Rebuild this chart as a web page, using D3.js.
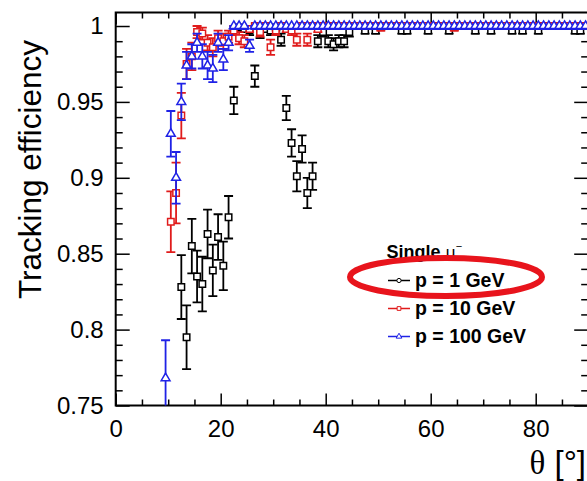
<!DOCTYPE html>
<html>
<head>
<meta charset="utf-8">
<script src="https://cdn.jsdelivr.net/npm/d3@7"></script>
<style>
  html, body { margin: 0; padding: 0; background: #fff; }
  svg { display: block; }
  text { font-family: "Liberation Sans", Arial, Helvetica, sans-serif; fill: #000; }
</style>
</head>
<body>
<svg id="chart" width="587" height="481"></svg>
<script>
// Bin centres in theta (degrees), 1 degree wide bins
const thetaBins = [
  9.5, 10.5, 11.5, 12.5, 13.5, 14.5, 15.5, 16.5, 17.5, 18.5, 19.5,
  20.5, 21.5, 22.5, 23.5, 24.5, 25.5, 26.5, 27.5, 28.5, 29.5,
  30.5, 31.5, 32.5, 33.5, 34.5, 35.5, 36.5, 37.5, 38.5, 39.5,
  40.5, 41.5, 42.5, 43.5, 44.5, 45.5, 46.5, 47.5, 48.5, 49.5,
  50.5, 51.5, 52.5, 53.5, 54.5, 55.5, 56.5, 57.5, 58.5, 59.5,
  60.5, 61.5, 62.5, 63.5, 64.5, 65.5, 66.5, 67.5, 68.5, 69.5,
  70.5, 71.5, 72.5, 73.5, 74.5, 75.5, 76.5, 77.5, 78.5, 79.5,
  80.5, 81.5, 82.5, 83.5, 84.5, 85.5, 86.5, 87.5, 88.5, 89.5
];

// p = 1 GeV
const effP1 = [
  null, null, null, 0.828, 0.795, 0.855, 0.835, 0.830, 0.863, 0.839, 0.861,
  0.842, 0.874, 0.951, 0.999, 0.998, 0.997, 0.967, 0.995, 0.998, 0.997,
  0.999, 0.991, 0.946, 0.923, 0.901, 0.919, 0.890, 0.901, 0.990, 0.996,
  0.990, 0.988, 0.990, 0.990, 0.996, 1, 1, 0.997, 1, 0.997,
  1, 1, 1, 1, 0.997, 0.997, 1, 1, 1, 0.997,
  1, 1, 1, 0.997, 1, 1, 1, 1, 0.997, 1,
  1, 0.997, 1, 1, 1, 0.997, 1, 0.997, 1, 1,
  0.997, 1, 1, 1, 1, 1, 1, 0.997, 0.997, 1
];
const errP1 = [
  null, null, null, 0.021, 0.021, 0.018, 0.017, 0.018, 0.016, 0.017, 0.015,
  0.016, 0.014, 0.009, 0.002, 0.002, 0.003, 0.007, 0.003, 0.002, 0.003,
  0.002, 0.004, 0.008, 0.009, 0.010, 0.009, 0.010, 0.009, 0.004, 0.003,
  0.004, 0.004, 0.004, 0.004, 0.003, 0.002, 0.002, 0.002, 0.002, 0.002,
  0.002, 0.002, 0.002, 0.002, 0.002, 0.002, 0.002, 0.002, 0.002, 0.002,
  0.002, 0.002, 0.002, 0.002, 0.002, 0.002, 0.002, 0.002, 0.002, 0.002,
  0.002, 0.002, 0.002, 0.002, 0.002, 0.002, 0.002, 0.002, 0.002, 0.002,
  0.002, 0.002, 0.002, 0.002, 0.002, 0.002, 0.002, 0.002, 0.002, 0.002
];

// p = 10 GeV
const effP10 = [
  null, 0.871, 0.890, 0.941, 0.975, 0.980, 0.996, 0.995, 0.989, 0.986, 0.992,
  0.990, 0.993, 0.997, 0.992, 0.990, 0.998, 1, 0.996, 1, 0.986,
  0.997, 1, 0.998, 0.997, 0.991, 1, 0.991, 1, 0.998, 1,
  1, 1, 1, 1, 1, 1, 1, 1, 1, 1,
  0.999, 1, 1, 1, 1, 1, 1, 1, 1, 1,
  1, 1, 1, 1, 0.999, 1, 1, 1, 1, 1,
  1, 1, 1, 1, 1, 1, 1, 1, 1, 1,
  1, 1, 1, 1, 1, 1, 1, 1, 1, 1
];
const errP10 = [
  null, 0.020, 0.020, 0.015, 0.010, 0.009, 0.004, 0.004, 0.005, 0.006, 0.005,
  0.005, 0.004, 0.003, 0.004, 0.004, 0.002, 0.002, 0.003, 0.002, 0.005,
  0.003, 0.002, 0.002, 0.003, 0.004, 0.002, 0.004, 0.002, 0.002, 0.002,
  0.002, 0.002, 0.002, 0.002, 0.002, 0.002, 0.002, 0.002, 0.002, 0.002,
  0.002, 0.002, 0.002, 0.002, 0.002, 0.002, 0.002, 0.002, 0.002, 0.002,
  0.002, 0.002, 0.002, 0.002, 0.002, 0.002, 0.002, 0.002, 0.002, 0.002,
  0.002, 0.002, 0.002, 0.002, 0.002, 0.002, 0.002, 0.002, 0.002, 0.002,
  0.002, 0.002, 0.002, 0.002, 0.002, 0.002, 0.002, 0.002, 0.002, 0.002
];

// p = 100 GeV
const effP100 = [
  0.768, 0.929, 0.900, 0.950, 0.974, 0.980, 0.989, 0.980, 0.974, 0.972, 0.989,
  0.978, 0.989, 1, 1, 1, 0.987, 1, 1, 1, 1,
  1, 1, 1, 1, 1, 1, 1, 1, 1, 1,
  1, 1, 1, 1, 1, 1, 1, 1, 1, 1,
  1, 1, 1, 1, 1, 1, 1, 1, 1, 1,
  1, 1, 1, 1, 1, 1, 1, 1, 1, 1,
  1, 1, 1, 1, 1, 1, 1, 1, 1, 1,
  1, 1, 1, 1, 1, 1, 1, 1, 1, 1
];
const errP100 = [
  0.025, 0.015, 0.017, 0.012, 0.009, 0.008, 0.006, 0.008, 0.009, 0.009, 0.006,
  0.007, 0.005, 0.002, 0.002, 0.002, 0.004, 0.002, 0.002, 0.002, 0.002,
  0.002, 0.002, 0.002, 0.002, 0.002, 0.002, 0.002, 0.002, 0.002, 0.002,
  0.002, 0.002, 0.002, 0.002, 0.002, 0.002, 0.002, 0.002, 0.002, 0.002,
  0.002, 0.002, 0.002, 0.002, 0.002, 0.002, 0.002, 0.002, 0.002, 0.002,
  0.002, 0.002, 0.002, 0.002, 0.002, 0.002, 0.002, 0.002, 0.002, 0.002,
  0.002, 0.002, 0.002, 0.002, 0.002, 0.002, 0.002, 0.002, 0.002, 0.002,
  0.002, 0.002, 0.002, 0.002, 0.002, 0.002, 0.002, 0.002, 0.002, 0.002
];

const seriesNames = ["p = 1 GeV", "p = 10 GeV", "p = 100 GeV"];
const seriesColors = ["#000000", "#e01b1b", "#1f22e6"];
const seriesMarkers = ["square", "square", "triangle"];
const legendMarkers = ["circle", "square", "triangle"];

const xMajorTicks = [0, 20, 40, 60, 80];
const yMajorTicks = [0.75, 0.8, 0.85, 0.9, 0.95, 1];
const xTitle = "\u03b8";
const xUnit = " [\u00b0]";
const yTitle = "Tracking efficiency";

// ---- frame and scales ----
const frame = { left: 115.7, right: 588.2, top: 12.5, bottom: 405.5 };
const x = d3.scaleLinear().domain([0, 90]).range([frame.left, frame.right]);
const y = d3.scaleLinear().domain([0.75, 1.0089]).range([frame.bottom, frame.top]);

const svg = d3.select("#chart");

svg.append("defs").append("clipPath").attr("id", "plotClip")
  .append("rect")
  .attr("x", frame.left).attr("y", frame.top)
  .attr("width", frame.right - frame.left).attr("height", frame.bottom - frame.top);

const xMinor = d3.range(0, 91, 5).filter(v => v % 20 !== 0);
const yMinor = d3.range(75, 101, 1).map(v => v / 100).filter(v => Math.round(v * 100) % 5 !== 0);

const fmtY = d => String(+d.toFixed(2));

function styleAxis(g) {
  g.select(".domain").remove();
  g.selectAll(".tick line").attr("stroke", "#000").attr("stroke-width", 1.5);
  g.selectAll(".tick text")
    .attr("font-family", "'Liberation Sans', Arial, sans-serif")
    .attr("font-size", 24).attr("fill", "#000");
}

// bottom axis (ticks pointing inward)
svg.append("g").attr("transform", `translate(0,${frame.bottom})`)
  .call(d3.axisBottom(x).tickValues(xMajorTicks).tickSize(-12).tickPadding(14).tickFormat(d3.format("d")))
  .call(styleAxis);
svg.append("g").attr("transform", `translate(0,${frame.bottom})`)
  .call(d3.axisBottom(x).tickValues(xMinor).tickSize(-6).tickFormat(""))
  .call(styleAxis);
// top axis
svg.append("g").attr("transform", `translate(0,${frame.top})`)
  .call(d3.axisTop(x).tickValues(xMajorTicks).tickSize(-12).tickFormat(""))
  .call(styleAxis);
svg.append("g").attr("transform", `translate(0,${frame.top})`)
  .call(d3.axisTop(x).tickValues(xMinor).tickSize(-6).tickFormat(""))
  .call(styleAxis);
// left axis
svg.append("g").attr("transform", `translate(${frame.left},0)`)
  .call(d3.axisLeft(y).tickValues(yMajorTicks).tickSize(-14).tickPadding(12).tickFormat(fmtY))
  .call(styleAxis);
svg.append("g").attr("transform", `translate(${frame.left},0)`)
  .call(d3.axisLeft(y).tickValues(yMinor).tickSize(-7).tickFormat(""))
  .call(styleAxis);
// right axis
svg.append("g").attr("transform", `translate(${frame.right},0)`)
  .call(d3.axisRight(y).tickValues(yMajorTicks).tickSize(-14).tickFormat(""))
  .call(styleAxis);
svg.append("g").attr("transform", `translate(${frame.right},0)`)
  .call(d3.axisRight(y).tickValues(yMinor).tickSize(-7).tickFormat(""))
  .call(styleAxis);

// frame
svg.append("rect")
  .attr("x", frame.left).attr("y", frame.top)
  .attr("width", frame.right - frame.left).attr("height", frame.bottom - frame.top)
  .attr("fill", "none").attr("stroke", "#000").attr("stroke-width", 2);

// ---- data: error bars and markers ----
const symbolTypes = { square: d3.symbolSquare, triangle: d3.symbolTriangle, circle: d3.symbolCircle };
const symbolSizes = { square: 42, triangle: 34, circle: 22 };

const plot = svg.append("g").attr("clip-path", "url(#plotClip)");
const allEff = [effP1, effP10, effP100];
const allErr = [errP1, errP10, errP100];
const capHalf = 4.5;

allEff.forEach((eff, s) => {
  const pts = thetaBins.map((t, i) => ({ t, v: eff[i], e: allErr[s][i] }))
    .filter(d => d.v !== null);
  const g = plot.append("g").attr("stroke", seriesColors[s]).attr("stroke-width", 1.8);
  const bars = g.selectAll("g.pt").data(pts).join("g").attr("class", "pt");
  bars.append("line")
    .attr("x1", d => x(d.t)).attr("x2", d => x(d.t))
    .attr("y1", d => y(d.v - d.e)).attr("y2", d => y(Math.min(1, d.v + d.e)));
  bars.append("line")
    .attr("x1", d => x(d.t) - capHalf).attr("x2", d => x(d.t) + capHalf)
    .attr("y1", d => y(d.v - d.e)).attr("y2", d => y(d.v - d.e));
  bars.append("line")
    .attr("x1", d => x(d.t) - capHalf).attr("x2", d => x(d.t) + capHalf)
    .attr("y1", d => y(Math.min(1, d.v + d.e))).attr("y2", d => y(Math.min(1, d.v + d.e)));
  const sym = d3.symbol().type(symbolTypes[seriesMarkers[s]]).size(symbolSizes[seriesMarkers[s]]);
  g.selectAll("path.mk").data(pts).join("path").attr("class", "mk")
    .attr("d", sym)
    .attr("transform", d => `translate(${x(d.t)},${y(d.v)})`)
    .attr("fill", "#fff").attr("stroke-width", 1.5);
});

// ---- legend ----
const legend = svg.append("g");
const lt = legend.append("text").attr("x", 386.5).attr("y", 258)
  .attr("font-size", 18).attr("font-weight", "bold");
lt.append("tspan").text("Single ");
lt.append("tspan").attr("font-weight", "normal").attr("font-family", "'DejaVu Sans', sans-serif")
  .attr("font-size", 16).text("\u03bc");
lt.append("tspan").attr("font-weight", "normal").attr("font-size", 11).attr("dy", -8).text("\u2212");

const legendBase = [287, 315, 343];
seriesNames.forEach((name, s) => {
  const yb = legendBase[s];
  const cy = yb - 6.5;
  legend.append("line").attr("x1", 388).attr("x2", 410).attr("y1", cy).attr("y2", cy)
    .attr("stroke", seriesColors[s]).attr("stroke-width", 1.5);
  legend.append("path")
    .attr("d", d3.symbol().type(symbolTypes[legendMarkers[s]]).size(14))
    .attr("transform", `translate(399,${cy})`)
    .attr("fill", "#fff").attr("stroke", seriesColors[s]).attr("stroke-width", 1);
  legend.append("text").attr("x", 415).attr("y", yb)
    .attr("font-size", 19.5).attr("font-weight", "bold").text(name);
});

// highlight ring around the 1 GeV entry
svg.append("ellipse").attr("cx", 446).attr("cy", 277).attr("rx", 96).attr("ry", 19)
  .attr("fill", "none").attr("stroke", "#e8141c").attr("stroke-width", 6);

// ---- axis titles ----
svg.append("text")
  .attr("transform", "translate(41,40) rotate(-90)")
  .attr("text-anchor", "end").attr("font-size", 31.5).text(yTitle);

const xt = svg.append("text").attr("x", 586).attr("y", 474).attr("text-anchor", "end").attr("font-size", 33);
xt.append("tspan").attr("font-family", "'Liberation Serif', 'Times New Roman', serif").text(xTitle);
xt.append("tspan").text(xUnit);
</script>
</body>
</html>
